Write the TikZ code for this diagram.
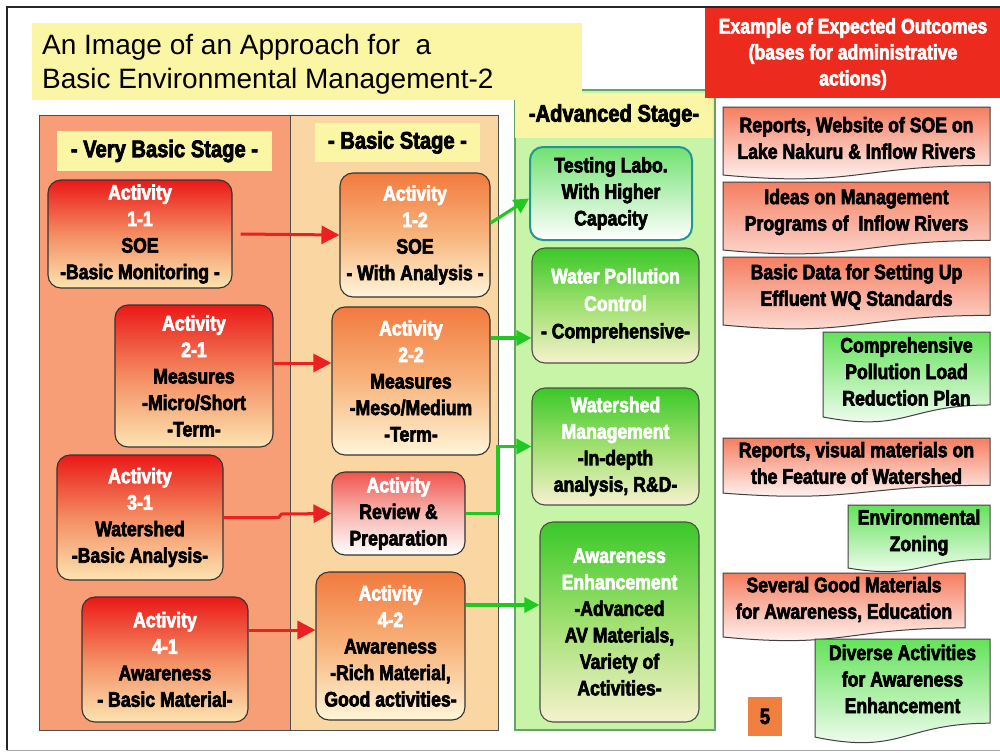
\documentclass[tikz,border=0pt]{standalone}
\usepackage{fontspec}
\usetikzlibrary{arrows.meta}
\setmainfont{Liberation Sans}
\newfontfamily\heavy[FakeStretch=0.84,FakeBold=3]{Liberation Sans Bold}

% panel and box colours
\definecolor{vbfill}{RGB}{247,158,118}
\definecolor{bsfill}{RGB}{250,214,162}
\definecolor{advfill}{RGB}{200,244,168}
\definecolor{lblyellow}{RGB}{251,246,165}
\definecolor{hdrred}{RGB}{236,42,30}
\definecolor{actred}{RGB}{234,24,24}
\definecolor{actredmid}{RGB}{244,140,98}
\definecolor{actredlow}{RGB}{252,228,176}
\definecolor{actor}{RGB}{242,122,62}
\definecolor{actormid}{RGB}{248,180,124}
\definecolor{actorlow}{RGB}{255,246,216}
\definecolor{revtop}{RGB}{240,84,78}
\definecolor{revmid}{RGB}{248,182,176}
\definecolor{grtop}{RGB}{58,200,40}
\definecolor{grmid}{RGB}{160,224,112}
\definecolor{grlow}{RGB}{246,242,206}
\definecolor{labtop}{RGB}{112,226,112}
\definecolor{labedge}{RGB}{36,148,150}
\definecolor{arrred}{RGB}{236,32,32}
\definecolor{arrgreen}{RGB}{34,200,34}
\definecolor{outsalmon}{RGB}{245,126,96}
\definecolor{outgreen}{RGB}{100,226,90}
\definecolor{pagebox}{RGB}{240,128,64}

% document-style box with a wavy lower edge: x1, y1, x2, height, top colour, bottom colour
\newcommand\outcomebox[6]{%
  \path[draw=black!75, line width=1pt, top color=#5, bottom color=#6]
    (#1,#2) -- (#3,#2) -- (#3,{#2+0.802*#4})
    .. controls ({(#1+#3)/2},{#2+0.802*#4}) and ({(#1+#3)/2},{#2+1.107*#4}) .. (#1,{#2+0.934*#4})
    -- cycle;}

\begin{document}
\begin{tikzpicture}[x=1pt,y=-1pt,
  hv/.style={font=\heavy\fontsize{21}{26.5}\selectfont},
  panelline/.style={draw=black!70, line width=1pt},
  stagelbl/.style={fill=lblyellow, inner sep=0pt,
    font=\heavy\fontsize{24}{28}\selectfont},
  actbox/.style={rounded corners=13pt, draw=black!80, line width=1.1pt,
    align=center, inner sep=0pt, hv},
  vbact/.style={actbox, top color=actred, bottom color=actredlow, middle color=actredmid},
  bsact/.style={actbox, top color=actor, bottom color=actorlow, middle color=actormid},
  advact/.style={actbox, draw=black!70, top color=grtop, bottom color=grlow, middle color=grmid},
  outtext/.style={hv, align=center, inner sep=0pt},
  redarr/.style={draw=arrred, line width=3pt, -{Triangle[length=18pt,width=18pt]}},
  grnarr/.style={draw=arrgreen, line width=3.2pt, -{Triangle[length=15pt,width=15pt]}}
]
\useasboundingbox (0,0) rectangle (1000,752);
\fill[white] (0,0) rectangle (1000,752);

% slide frame
\draw[line width=2pt, black!85] (1000,7) -- (7,7) -- (7,750);
\draw[line width=1pt, black!35] (7,750) -- (1000,750);

% stage panels
\draw[panelline, fill=vbfill] (39,115) rectangle (290,730);
\draw[panelline, fill=bsfill] (290,115) rectangle (498,730);
\draw[draw=black!60!green!60, line width=1.2pt, fill=advfill] (515,90) rectangle (715,730);

% title
\fill[lblyellow] (32,23) rectangle (582,100);
\node[anchor=base west, inner sep=0pt, font=\fontsize{28}{33}\selectfont] (title1) at (42,55) {An Image of an Approach for~ a};
\node[anchor=base west, inner sep=0pt, font=\fontsize{28}{33}\selectfont] (title2) at (42,88) {Basic Environmental Management-2};

% stage labels
\node[stagelbl, minimum width=215, minimum height=40] (lblvb) at (164.5,151) {- Very Basic Stage -};
\node[stagelbl, minimum width=165, minimum height=39] (lblbs) at (397.5,142.5) {- Basic Stage -};
\node[stagelbl, minimum width=198, minimum height=45] (lbladv) at (614,115.5) {-Advanced Stage-};

% outcome header
\fill[hdrred] (705,8) rectangle (1000,98);
\node[text=white, align=center, inner sep=0pt, font=\heavy\fontsize{21}{26}\selectfont] (hdr) at (853,54)
  {Example of Expected Outcomes\\(bases for administrative\\actions)};

% very basic stage activities
\node[vbact, minimum width=184, minimum height=108] (a11) at (140,234)
  {\textcolor{white}{Activity}\\\textcolor{white}{1-1}\\SOE\\-Basic Monitoring -};
\node[vbact, minimum width=158, minimum height=142] (a21) at (194,376)
  {\textcolor{white}{Activity}\\\textcolor{white}{2-1}\\Measures\\-Micro/Short\\-Term-};
\node[vbact, minimum width=166, minimum height=125] (a31) at (140,517.5)
  {\textcolor{white}{Activity}\\\textcolor{white}{3-1}\\Watershed\\-Basic Analysis-};
\node[vbact, minimum width=166, minimum height=125] (a41) at (165,659.5)
  {\textcolor{white}{Activity}\\\textcolor{white}{4-1}\\Awareness\\- Basic Material-};

% basic stage activities
\node[bsact, minimum width=150, minimum height=124] (a12) at (415,235)
  {\textcolor{white}{Activity}\\\textcolor{white}{1-2}\\SOE\\- With Analysis -};
\node[bsact, minimum width=158, minimum height=148] (a22) at (411,381)
  {\textcolor{white}{Activity}\\\textcolor{white}{2-2}\\Measures\\-Meso/Medium\\-Term-};
\node[actbox, top color=revtop, bottom color=white, middle color=revmid,
  minimum width=133, minimum height=83] (a32) at (398.5,513.5)
  {\textcolor{white}{Activity}\\Review \&\\Preparation};
\node[bsact, minimum width=149, minimum height=148] (a42) at (390.5,646)
  {\textcolor{white}{Activity}\\\textcolor{white}{4-2}\\Awareness\\-Rich Material,\\Good activities-};

% advanced stage activities
\node[actbox, draw=labedge, line width=2pt, top color=labtop, bottom color=white,
  minimum width=162, minimum height=93] (g1) at (611,193.5)
  {Testing Labo.\\With Higher\\Capacity};
\node[advact, minimum width=167, minimum height=115, font=\heavy\fontsize{21}{27.5}\selectfont] (g2) at (615.5,305.5)
  {\textcolor{white}{Water Pollution}\\\textcolor{white}{Control}\\- Comprehensive-};
\node[advact, minimum width=167, minimum height=117] (g3) at (615.5,446.5)
  {\textcolor{white}{Watershed}\\\textcolor{white}{Management}\\-In-depth\\analysis, R\&D-};
\node[advact, minimum width=159, minimum height=200] (g4) at (619.5,622)
  {\textcolor{white}{Awareness}\\\textcolor{white}{Enhancement}\\-Advanced\\AV Materials,\\Variety of\\Activities-};

% very basic -> basic
\draw[redarr] ([xshift=8pt]a11.east) -- (a12.west);
\coordinate (p21) at ([yshift=13pt]a21.east);
\draw[redarr] (p21) -- (p21 -| a22.west);
\draw[redarr] (a31.east) -- ++(55,0) -- ++(3,-3.5) -- (a32.west);
\coordinate (p41) at ([yshift=29.5pt]a41.east);
\draw[redarr] (p41) -- (p41 -| a42.west);

% basic -> advanced
\draw[grnarr] ([yshift=12pt]a12.east) -- ([yshift=-5pt]g1.west);
\coordinate (p22) at ([yshift=43pt]a22.east);
\draw[grnarr] (p22) -- (p22 -| g2.west);
\coordinate (bend) at (498,0);
\draw[grnarr] (a32.east) -| (bend |- g3.west) -- (g3.west);
\coordinate (p42) at ([yshift=41pt]a42.east);
\draw[grnarr] (p42) -- (p42 -| g4.west);

% expected outcomes
\outcomebox{723}{107}{990}{72.8}{outsalmon}{white}
\node[outtext] (o1) at (856.5,138) {Reports, Website of SOE on\\Lake Nakuru \& Inflow Rivers};
\outcomebox{723}{182}{990}{72.8}{outsalmon}{outsalmon!25}
\node[outtext] (o2) at (856.5,212) {Ideas on Management\\Programs of~ Inflow Rivers};
\outcomebox{723}{257}{990}{72.8}{outsalmon}{outsalmon!20}
\node[outtext] (o3) at (856.5,287) {Basic Data for Setting Up\\Effluent WQ Standards};
\outcomebox{823}{332}{990}{91}{outgreen}{white}
\node[outtext] (o4) at (906.5,371.5) {Comprehensive\\Pollution Load\\Reduction Plan};
\outcomebox{723}{438}{990}{59}{outsalmon}{white}
\node[outtext] (o5) at (856.5,463) {Reports, visual materials on\\the Feature of Watershed};
\outcomebox{848}{505}{990}{67.5}{outgreen}{white}
\node[outtext] (o6) at (919,532.5) {Environmental\\Zoning};
\outcomebox{723}{573}{965}{68.5}{outsalmon}{white}
\node[outtext] (o7) at (844,599.5) {Several Good Materials\\for Awareness, Education};
\outcomebox{815}{639}{990}{105}{outgreen}{white}
\node[outtext] (o8) at (902.5,679) {Diverse Activities\\for Awareness\\Enhancement};

% page number
\node[fill=pagebox, minimum width=34, minimum height=39, inner sep=0pt,
  font=\heavy\fontsize{22}{26}\selectfont] (pg) at (765,716.5) {5};
\end{tikzpicture}
\end{document}
